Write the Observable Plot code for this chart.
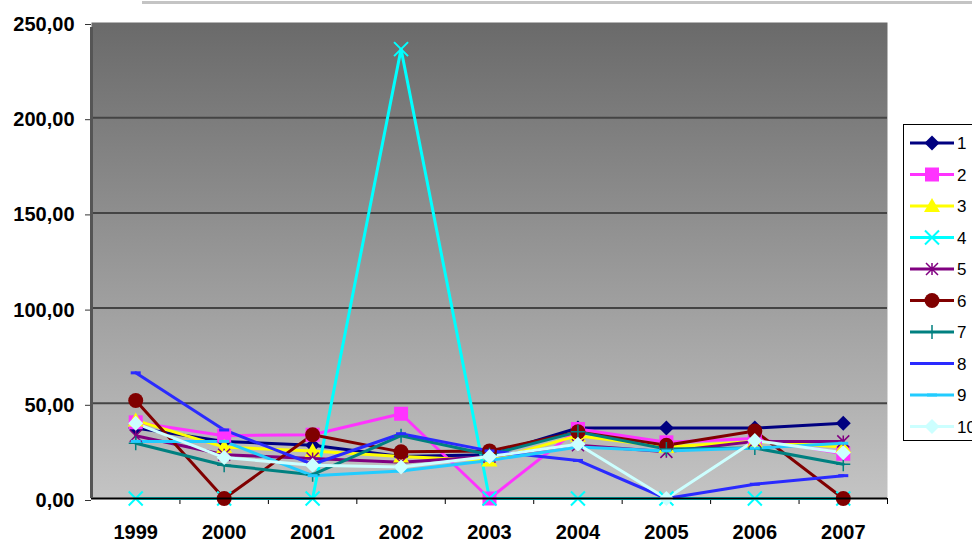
<!DOCTYPE html>
<html><head><meta charset="utf-8">
<script src="https://cdn.jsdelivr.net/npm/d3@7"></script>
<script src="https://cdn.jsdelivr.net/npm/@observablehq/plot@0.6"></script>
<style>
body{margin:0;width:972px;height:541px;overflow:hidden;background:#fff;position:relative;font-family:Arial,"Liberation Sans",sans-serif;}
#chart{position:absolute;left:0;top:0}
#chart svg text{font-weight:bold;font-family:"Liberation Sans",Arial,sans-serif}
#topline{position:absolute;left:142px;top:1px;width:830px;height:3px;background:#c4c4c4}
#legend{position:absolute;left:903px;top:124px;width:100px;height:317px;border:1px solid #000;background:#fff;box-sizing:border-box}
#legend text{font-family:"Liberation Sans",Arial,sans-serif}
</style></head><body>
<div id="chart"></div><div id="topline"></div><div id="legend"></div>
<script>
// ---- data ----
const years = [1999, 2000, 2001, 2002, 2003, 2004, 2005, 2006, 2007];
const seriesNames = ["1", "2", "3", "4", "5", "6", "7", "8", "9", "10"];
const s1 = [37, 30, 28, 22, 23, 37, 37, 37, 39.5];
const s2 = [40, 33, 33.5, 44.5, 0, 36.5, 29.5, 31.5, 23.5];
const s3 = [41, 27, 25, 22, 20, 33, 27, 30, 27];
const s4 = [0, 0, 0, 236, 0, 0, 0, 0, 0];
const s5 = [33, 23, 21, 19, 22, 28, 24.5, 30, 30];
const s6 = [51.5, 0, 33.5, 24.5, 25, 35, 28, 35.5, 0];
const s7 = [29, 17.5, 12.5, 33, 23, 35, 26, 26.5, 18];
const s8 = [66, 36, 18, 34, 25, 20, 0, 7.5, 12];
const s9 = [30, 30, 12, 14.5, 20, 27, 25, 26.5, 29];
const s10 = [39.5, 21.5, 17.5, 16.5, 22, 28.5, 0, 30.5, 24];
const yTicks = [0, 50, 100, 150, 200, 250];
const allSeries = [s1, s2, s3, s4, s5, s6, s7, s8, s9, s10];

// ---- styles ----
const colors = ["#000080", "#ff33ff", "#ffff00", "#00ffff", "#800080", "#800000", "#008080", "#2a2aff", "#22ccff", "#ccffff"];
const R = s => Math.sqrt(s / Math.PI);
const sym = {
  diamond: {draw(c, s) { const r = R(s); c.moveTo(0, -r); c.lineTo(r, 0); c.lineTo(0, r); c.lineTo(-r, 0); c.closePath(); }},
  square: {draw(c, s) { const r = R(s); c.rect(-r, -r, 2 * r, 2 * r); }},
  triangle: {draw(c, s) { const r = R(s); c.moveTo(0, -r); c.lineTo(r, r * 0.75); c.lineTo(-r, r * 0.75); c.closePath(); }},
  times: {draw(c, s) { const r = R(s); c.moveTo(-r, -r); c.lineTo(r, r); c.moveTo(-r, r); c.lineTo(r, -r); }},
  star: {draw(c, s) { const r = R(s); c.moveTo(-r, -r); c.lineTo(r, r); c.moveTo(-r, r); c.lineTo(r, -r); c.moveTo(0, -r); c.lineTo(0, r); }},
  circle: {draw(c, s) { const r = R(s); c.moveTo(r, 0); c.arc(0, 0, r, 0, 2 * Math.PI); }},
  plus: {draw(c, s) { const r = R(s); c.moveTo(-r, 0); c.lineTo(r, 0); c.moveTo(0, -r); c.lineTo(0, r); }},
  dash: {draw(c, s) { const r = R(s); c.moveTo(-r, 0); c.lineTo(r, 0); }}
};
const markers = [
  {symbol: sym.diamond, r: 7.5, filled: true},
  {symbol: sym.square, r: 7, filled: true},
  {symbol: sym.triangle, r: 8, filled: true},
  {symbol: sym.times, r: 7, filled: false, sw: 2},
  {symbol: sym.star, r: 6, filled: false, sw: 1.5},
  {symbol: sym.circle, r: 7.5, filled: true},
  {symbol: sym.plus, r: 7, filled: false, sw: 1.5},
  {symbol: sym.dash, r: 5, filled: false, sw: 3},
  {symbol: sym.dash, r: 5, filled: false, sw: 3},
  {symbol: sym.diamond, r: 7.5, filled: true}
];

const tables = allSeries.map((vals, i) => years.map((yr, j) => ({year: yr, value: vals[j], series: seriesNames[i]})));
const bounds = years.slice(1).map(y => y - 0.5);
const fmt = d => d.toFixed(2).replace(".", ",");

const lineMarks = tables.map((t, i) => Plot.line(t, {x: "year", y: "value", stroke: colors[i], strokeWidth: 3}));
const dotMarks = tables.map((t, i) => {
  const m = markers[i];
  return Plot.dot(t, m.filled
    ? {x: "year", y: "value", symbol: m.symbol, r: m.r, fill: colors[i], stroke: "none"}
    : {x: "year", y: "value", symbol: m.symbol, r: m.r, fill: "none", stroke: colors[i], strokeWidth: m.sw});
});

const chart = Plot.plot({
  width: 972, height: 541,
  marginLeft: 91, marginRight: 85, marginTop: 22, marginBottom: 43,
  style: {fontFamily: "'Liberation Sans', Arial, sans-serif", background: "transparent", color: "#000", overflow: "visible"},
  x: {domain: [1998.5, 2007.5]},
  y: {domain: [0, 250]},
  marks: [
    Plot.frame({fill: "url(#bg)", stroke: "none"}),
    Plot.gridY(yTicks.slice(1, -1), {stroke: "#444", strokeOpacity: 1, strokeWidth: 2}),
    Plot.axisY(yTicks, {tickFormat: fmt, tickSize: 6, tickPadding: 11, fontSize: 20, fontWeight: "bold", label: null, stroke: "#333", dy: 2}),
    Plot.axisX(years, {tickSize: 0, tickPadding: 26, fontSize: 20, fontWeight: "bold", label: null, tickFormat: d => String(d)}),
    Plot.axisX(bounds.concat([2007.5]), {tickSize: 6, tickFormat: () => "", label: null, stroke: "#000"}),
    ...lineMarks,
    ...dotMarks,
    Plot.ruleY([0], {stroke: "#000", strokeWidth: 2}),
    Plot.ruleX([1998.5], {stroke: "#555", strokeWidth: 3, y1: 0, y2: 250, insetBottom: -5})
  ]
});
d3.select(chart).insert("defs", ":first-child").html(
  '<linearGradient id="bg" x1="0" y1="0" x2="0" y2="1"><stop offset="0" stop-color="#6a6a6a"/><stop offset="1" stop-color="#c4c4c4"/></linearGradient>'
);
document.getElementById("chart").appendChild(chart);

// ---- legend ----
const leg = d3.select("#legend").append("svg").attr("width", 100).attr("height", 317).style("display", "block");
seriesNames.forEach((name, i) => {
  const cy = 18 + i * 31.5;
  const g = leg.append("g").attr("transform", `translate(0,${cy})`);
  g.append("line").attr("x1", 6).attr("x2", 50).attr("y1", 0).attr("y2", 0).attr("stroke", colors[i]).attr("stroke-width", 3);
  const m = markers[i];
  const p = g.append("path").attr("transform", "translate(28,0)").attr("d", d3.symbol().type(m.symbol).size(Math.PI * m.r * m.r)());
  if (m.filled) p.attr("fill", colors[i]).attr("stroke", "none");
  else p.attr("fill", "none").attr("stroke", colors[i]).attr("stroke-width", m.sw);
  g.append("text").attr("x", 53).attr("y", 6).attr("font-size", 17).attr("fill", "#000").text(name);
});
</script>
</body></html>
